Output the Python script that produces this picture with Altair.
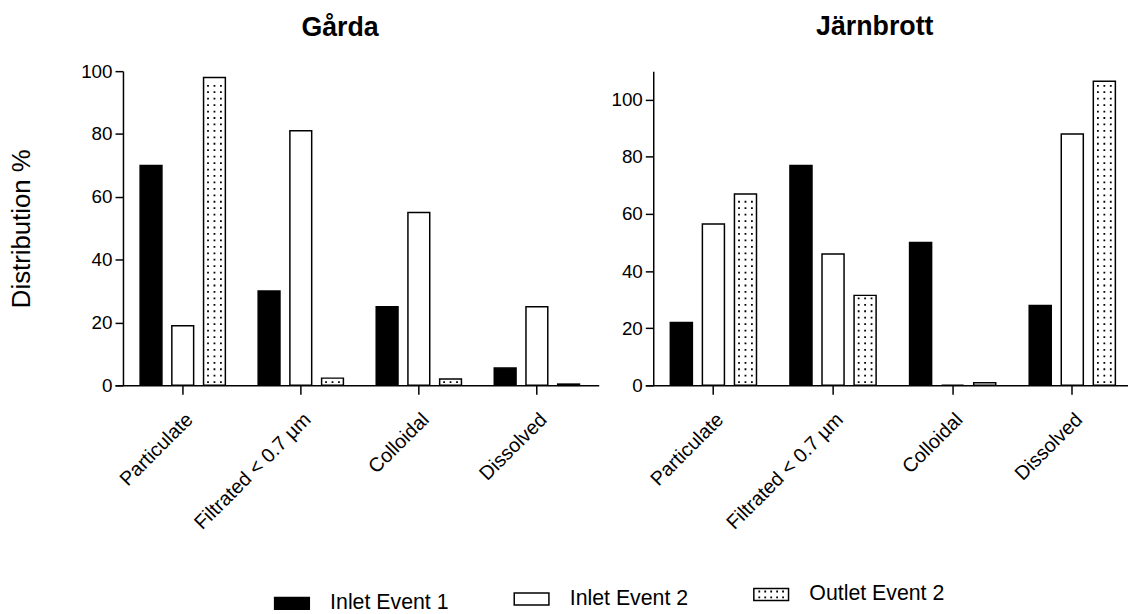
import altair as alt
import pandas as pd

categories = ["Particulate", "Filtrated < 0.7 µm", "Colloidal", "Dissolved"]
series = ["Inlet Event 1", "Inlet Event 2", "Outlet Event 2"]

garda_inlet1 = [70.0, 30.0, 25.0, 5.5]
garda_inlet2 = [19.0, 81.0, 55.0, 25.0]
garda_outlet2 = [98.0, 2.3, 2.0, 0.4]

jarn_inlet1 = [22.0, 77.0, 50.0, 28.0]
jarn_inlet2 = [56.5, 46.0, 0.0, 88.0]
jarn_outlet2 = [67.0, 31.5, 0.9, 106.5]

y_ticks = [0, 20, 40, 60, 80, 100]

FONT = "Liberation Sans"
H = 317
fill_scale = alt.Scale(domain=series, range=["black", "white", "white"])


def dots_path(cols, rows, half=0.09):
    # custom symbol path (units of 10 px when size=400): a small stipple tile
    parts = []
    for cx in cols:
        for cy in rows:
            parts.append(f"M{cx - half:.3f},{cy - half:.3f}h{2 * half:.3f}v{2 * half:.3f}h{-2 * half:.3f}z")
    return " ".join(parts)


BAR_DOTS = dots_path([-0.65, 0.0, 0.65], [0.0])
LEG_DOTS = dots_path([-1.2, -0.6, 0.0, 0.6, 1.2], [-0.3, 0.3])
LEG_BOX = "M-1.75,-0.6H1.75V0.6H-1.75Z"


def long_table(a, b, c):
    rows = []
    for s, vals in zip(series, (a, b, c)):
        for cat, v in zip(categories, vals):
            rows.append({"category": cat, "series": s, "value": v})
    return pd.DataFrame(rows)


def dot_table(vals, ystep):
    # stipple rows for the dotted (Outlet Event 2) bars, derived from the values
    rows = []
    for cat, v in zip(categories, vals):
        k = 0
        while (k + 0.5) * ystep < v - 0.3 * ystep:
            rows.append({"category": cat, "series": series[2], "value": (k + 0.5) * ystep})
            k += 1
    return pd.DataFrame(rows)


def build_panel(vals, title, ymax, width, pin, pout, align, ytitle, toffset, tdx):
    df = long_table(*vals)
    ystep = 6.5 * ymax / H
    dots = dot_table(vals[2], ystep)
    xenc = alt.X(
        "category:N",
        sort=categories,
        scale=alt.Scale(domain=categories, paddingInner=pin, paddingOuter=pout, align=align),
        axis=alt.Axis(
            title=None, labelAngle=-45, labelAlign="right", labelBaseline="top",
            labelFont=FONT, labelFontSize=20, labelColor="black", labelPadding=15,
            labelLimit=400, tickSize=9, tickColor="black", tickWidth=1.5,
            domainColor="black", domainWidth=1.5, grid=False,
        ),
    )
    xoff = alt.XOffset(
        "series:N", sort=series,
        scale=alt.Scale(domain=series, paddingInner=0.3125, paddingOuter=0.15625),
    )
    yaxis = alt.Axis(
        values=y_ticks, offset=-8, grid=False,
        domainColor="black", domainWidth=1.5, tickColor="black", tickWidth=1.5, tickSize=8,
        labelFont=FONT, labelFontSize=19, labelColor="black", labelPadding=3,
        titleFont=FONT, titleFontSize=26, titleFontWeight="normal", titleColor="black",
        titlePadding=47,
    )
    yenc = alt.Y("value:Q", scale=alt.Scale(domain=[0, ymax], nice=False), axis=yaxis, title=ytitle)

    bars = alt.Chart(df).mark_bar(stroke="black", strokeWidth=1.5).encode(
        x=xenc, xOffset=xoff, y=yenc,
        fill=alt.Fill("series:N", scale=fill_scale, legend=None),
    )
    stipple = alt.Chart(dots).mark_point(
        shape=BAR_DOTS, size=400, filled=True, color="black", opacity=1, strokeWidth=0
    ).encode(x=xenc, xOffset=xoff, y=yenc)
    return alt.layer(bars, stipple).properties(
        width=width, height=H,
        title=alt.TitleParams(text=title, font=FONT, fontSize=27, fontWeight="bold",
                              color="black", anchor="middle", offset=toffset, dx=tdx),
    )


left = build_panel((garda_inlet1, garda_inlet2, garda_outlet2), "Gårda", 100, 488,
                   0.194, 0.1457, 0.585, "Distribution %", 20, -17)
right = build_panel((jarn_inlet1, jarn_inlet2, jarn_outlet2), "Järnbrott", 110, 487,
                    0.196, 0.1155, 0.724, None, 30, -12)

top = alt.hconcat(left, right, spacing=12).resolve_scale(xOffset="independent")

# legend row (positions come from point scales over the series names)
legend_df = pd.DataFrame({"series": series})
lx = alt.X("series:N", sort=series,
           scale=alt.Scale(type="point", domain=series, range=[178.5, 662], padding=0),
           axis=None)
ly = alt.Y("series:N", sort=series,
           scale=alt.Scale(type="point", domain=series, range=[16, 7], padding=0),
           axis=None)
leg_box = alt.Chart(legend_df).mark_point(
    shape=LEG_BOX, size=400, filled=True, stroke="black", strokeWidth=1.5, opacity=1
).encode(
    x=lx, y=ly,
    fill=alt.Fill("series:N", scale=fill_scale, legend=None),
)
leg_text = alt.Chart(legend_df).mark_text(
    align="left", baseline="middle", dx=38.5, font=FONT, fontSize=21.5, color="black"
).encode(x=lx, y=ly, text="series:N")
leg_dots = (
    alt.Chart(legend_df).transform_filter(alt.datum.series == series[2])
    .mark_point(shape=LEG_DOTS, size=400, filled=True, color="black", opacity=1, strokeWidth=0)
    .encode(x=lx, y=ly)
)
legend = alt.layer(leg_box, leg_text, leg_dots).properties(width=900, height=24)

chart = (
    alt.vconcat(top, legend, spacing=51)
    .resolve_scale(x="independent", y="independent", fill="shared")
    .properties(padding={"left": 0, "top": 3, "right": 0, "bottom": 0}, background="white")
    .configure(font=FONT)
    .configure_view(stroke=None)
)

chart.save("out.html", embed_options={"renderer": "svg", "actions": False})
